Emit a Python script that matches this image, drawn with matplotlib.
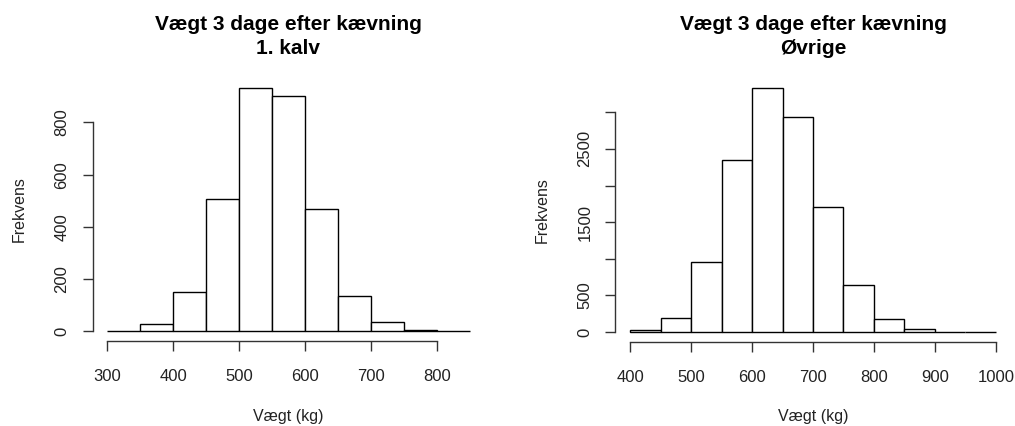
import numpy as np
import matplotlib.pyplot as plt

plt.rcParams['font.family'] = ['Liberation Sans', 'DejaVu Sans']

# Histogram for 1. kalv: bin edges (kg) and counts
kanter_1kalv = [300, 350, 400, 450, 500, 550, 600, 650, 700, 750, 800, 850]
antal_1kalv = [0, 26, 150, 505, 933, 900, 469, 136, 34, 5, 0]

# Histogram for øvrige køer
kanter_ovrige = [400, 450, 500, 550, 600, 650, 700, 750, 800, 850, 900, 950, 1000]
antal_ovrige = [32, 190, 960, 2355, 3335, 2930, 1700, 645, 180, 40, 3, 0]

xticks_1kalv = [300, 400, 500, 600, 700, 800]
yticks_1kalv = [0, 200, 400, 600, 800]
xticks_ovrige = [400, 500, 600, 700, 800, 900, 1000]
yticks_ovrige = [0, 500, 1000, 1500, 2000, 2500, 3000]
ylabels_ovrige = ['0', '500', '', '1500', '', '2500', '']

W, H = 1015, 426
fig = plt.figure(figsize=(W / 100, H / 100), dpi=100)

tekst = '#222222'


def histogram(rect, kanter, antal, xticks, yticks, ylabels, titel):
    ax = fig.add_axes([rect[0] / W, 1 - rect[3] / H, (rect[2] - rect[0]) / W, (rect[3] - rect[1]) / H])
    kanter = np.array(kanter)
    ax.bar(kanter[:-1], antal, width=np.diff(kanter), align='edge',
           facecolor='white', edgecolor='black', linewidth=1.0)
    span = kanter[-1] - kanter[0]
    ax.set_xlim(kanter[0] - 0.04 * span, kanter[-1] + 0.04 * span)
    top = max(antal)
    ax.set_ylim(-0.04 * top, 1.04 * top)
    for s in ['top', 'right']:
        ax.spines[s].set_visible(False)
    ax.spines['left'].set_bounds(yticks[0], yticks[-1])
    ax.spines['bottom'].set_bounds(xticks[0], xticks[-1])
    for s in ['left', 'bottom']:
        ax.spines[s].set_color('#333333')
        ax.spines[s].set_linewidth(1.0)
    ax.set_xticks(xticks)
    ax.set_yticks(yticks)
    ax.set_yticklabels(ylabels, rotation=90, va='center')
    ax.tick_params(direction='out', length=7, width=1.0, color='#333333',
                   labelsize=12, labelcolor=tekst)
    ax.tick_params(axis='x', pad=13.5)
    ax.tick_params(axis='y', pad=9.5)
    ax.set_xlabel('Vægt (kg)', fontsize=11.5, color=tekst, labelpad=17.5)
    ax.set_ylabel('Frekvens', fontsize=11.5, color=tekst, labelpad=20)
    ax.set_title(titel, fontsize=15, fontweight='bold', pad=17, linespacing=1.38)
    return ax


histogram((92.5, 78, 484.5, 341), kanter_1kalv, antal_1kalv, xticks_1kalv,
          yticks_1kalv, [str(v) for v in yticks_1kalv],
          'Vægt 3 dage efter kævning\n1. kalv')
histogram((615.4, 78, 1010.6, 341.7), kanter_ovrige, antal_ovrige, xticks_ovrige,
          yticks_ovrige, ylabels_ovrige,
          'Vægt 3 dage efter kævning\nØvrige')

fig.savefig('out.png', dpi=100)
